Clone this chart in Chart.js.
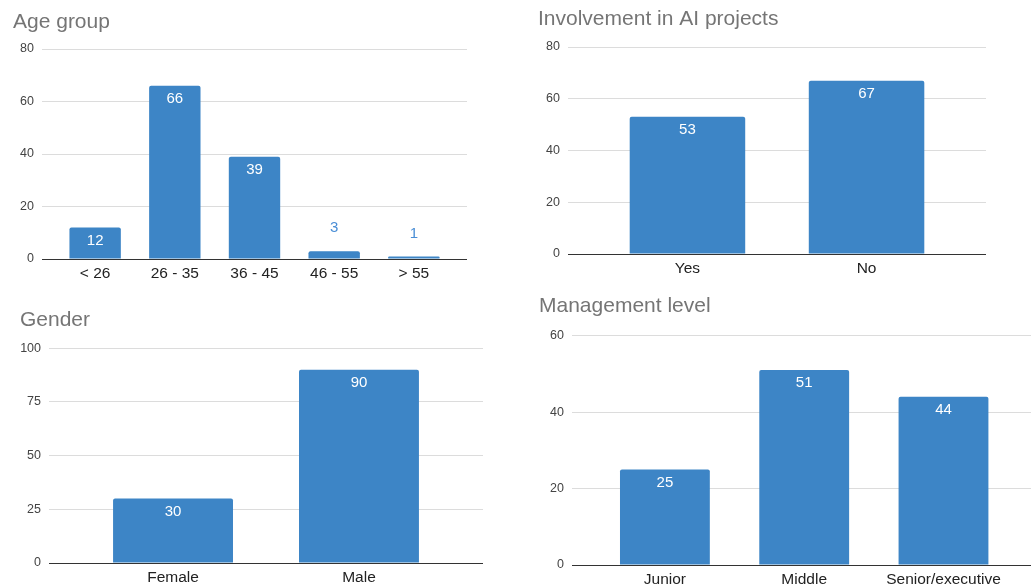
<!DOCTYPE html>
<html>
<head>
<meta charset="utf-8">
<script src="https://cdn.jsdelivr.net/npm/chart.js@4"></script>
<style>
  html, body { margin: 0; padding: 0; background: #fff; }
  body { position: relative; width: 1031px; height: 588px; overflow: hidden; }
  canvas { position: absolute; }
</style>
</head>
<body>
<canvas id="ageChart" width="474" height="289" style="left:13px;top:0px"></canvas>
<canvas id="aiChart" width="468" height="284" style="left:538px;top:0px"></canvas>
<canvas id="genderChart" width="483" height="298" style="left:20px;top:295px"></canvas>
<canvas id="levelChart" width="510" height="310" style="left:539px;top:285px"></canvas>
<script>
// データ
var ageLabels = ["< 26", "26 - 35", "36 - 45", "46 - 55", "> 55"];
var ageValues = [12, 66, 39, 3, 1];
var ageAxis = [80, 20]; // 最大値, 目盛り間隔

var aiLabels = ["Yes", "No"];
var aiValues = [53, 67];
var aiAxis = [80, 20];

var genderLabels = ["Female", "Male"];
var genderValues = [30, 90];
var genderAxis = [100, 25];

var levelLabels = ["Junior", "Middle", "Senior/executive"];
var levelValues = [25, 51, 44];
var levelAxis = [60, 20];

var FONT = "'Liberation Sans', Arial, sans-serif";
var BAR_COLOR = "#3d85c6";
var EDGE = 0.667; // 両端の余白（カテゴリ幅比）

Chart.defaults.font.family = FONT;

// 棒の上に数値を表示するプラグイン
var valueLabelPlugin = {
  id: "valueLabels",
  afterDatasetsDraw: function (chart) {
    var ctx = chart.ctx;
    var meta = chart.getDatasetMeta(0);
    var data = chart.data.datasets[0].data;
    ctx.save();
    ctx.font = "15px " + FONT;
    ctx.textAlign = "center";
    ctx.textBaseline = "middle";
    meta.data.forEach(function (bar, i) {
      var h = bar.base - bar.y;
      if (h > 24) {
        ctx.fillStyle = "#ffffff";
        ctx.fillText(String(data[i].y), bar.x, bar.y + 13);
      } else {
        ctx.fillStyle = "#4a8ed6";
        ctx.fillText(String(data[i].y), bar.x, bar.y - 23);
      }
    });
    ctx.restore();
  },
};

function drawBarChart(id, title, labels, values, axis, box) {
  var points = values.map(function (v, i) {
    return { x: i, y: v };
  });
  return new Chart(document.getElementById(id), {
    type: "bar",
    data: {
      datasets: [
        {
          data: points,
          backgroundColor: BAR_COLOR,
          borderRadius: { topLeft: 2, topRight: 2 },
          borderSkipped: "bottom",
          categoryPercentage: 1,
          barPercentage: 0.645,
        },
      ],
    },
    options: {
      responsive: false,
      animation: false,
      layout: { padding: { left: 0, top: 0, right: box.padRight, bottom: 0 } },
      plugins: {
        legend: { display: false },
        tooltip: { enabled: false },
        title: {
          display: true,
          text: title,
          align: "start",
          color: "#757575",
          font: { size: 21, weight: "normal" },
          padding: { top: box.titleTop, bottom: box.titleBottom },
        },
      },
      scales: {
        x: {
          type: "linear",
          offset: false,
          min: -EDGE,
          max: labels.length - 1 + EDGE,
          grid: { display: false, drawTicks: false },
          border: { display: false },
          ticks: {
            stepSize: 1,
            includeBounds: false,
            autoSkip: false,
            maxRotation: 0,
            padding: 5,
            color: "#222222",
            font: { size: 15.5 },
            callback: function (value) {
              return labels[value] !== undefined ? labels[value] : "";
            },
          },
          afterFit: function (scale) {
            scale.height = 30;
          },
        },
        y: {
          min: 0,
          max: axis[0],
          border: { display: false },
          grid: {
            drawTicks: false,
            color: function (c) {
              return c.tick && c.tick.value === 0 ? "#333333" : "#dcdcdc";
            },
          },
          ticks: {
            stepSize: axis[1],
            padding: 8,
            color: "#444444",
            font: { size: 12.5 },
          },
          afterFit: function (scale) {
            scale.width = box.axisWidth;
          },
        },
      },
    },
    plugins: [valueLabelPlugin],
  });
}

drawBarChart("ageChart", "Age group", ageLabels, ageValues, ageAxis,
  { axisWidth: 29, padRight: 20, titleTop: 10, titleBottom: 13.8 });
drawBarChart("aiChart", "Involvement in AI projects", aiLabels, aiValues, aiAxis,
  { axisWidth: 30, padRight: 20, titleTop: 6.8, titleBottom: 15 });
drawBarChart("genderChart", "Gender", genderLabels, genderValues, genderAxis,
  { axisWidth: 29, padRight: 20, titleTop: 12.8, titleBottom: 15.3 });
drawBarChart("levelChart", "Management level", levelLabels, levelValues, levelAxis,
  { axisWidth: 33, padRight: 12.6, titleTop: 8.4, titleBottom: 17.1 });
</script>
</body>
</html>
